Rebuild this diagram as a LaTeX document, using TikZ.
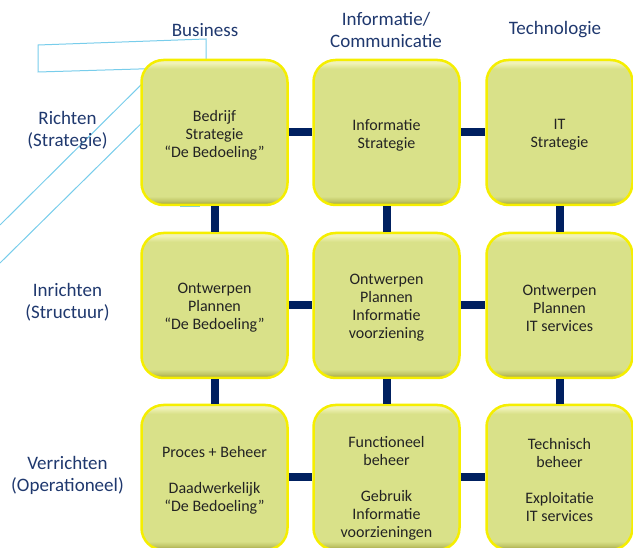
\documentclass[tikz,border=0pt]{standalone}
\usepackage{fontspec}
\setmainfont{Carlito}
\definecolor{bfill}{RGB}{217,225,137}
\definecolor{bdark}{RGB}{150,150,60}
\definecolor{bmid}{RGB}{190,195,100}
\definecolor{blight}{RGB}{240,242,185}
\definecolor{bedge}{RGB}{245,238,0}
\definecolor{conn}{RGB}{0,32,96}
\definecolor{lbl}{RGB}{31,56,110}
\definecolor{deco}{RGB}{120,205,235}
\definecolor{btext}{RGB}{35,35,35}
\pgfdeclareverticalshading{boxshade}{100bp}{color(0bp)=(bdark); color(25bp)=(bdark); color(26.3bp)=(bmid); color(28bp)=(bfill); color(72bp)=(bfill); color(74bp)=(blight); color(75bp)=(blight); color(100bp)=(blight)}
\tikzset{
  box/.style={rounded corners=22pt, minimum width=146pt, minimum height=145pt, inner sep=0pt, shading=boxshade, draw=bedge, line width=2.5pt},
  txt/.style={font=\fontsize{16}{18}\selectfont, align=center, text=btext, inner sep=0pt, yshift=-2.5pt},
  lab/.style={font=\fontsize{19}{22}\selectfont, align=center, text=lbl, inner sep=0pt},
  link/.style={draw=conn, line width=8pt},
  decoline/.style={draw=deco, line width=1pt}
}
\begin{document}
\begin{tikzpicture}[x=1pt,y=-1pt]
\useasboundingbox (0,0) rectangle (633,548);
% light decorations behind
\coordinate (p1) at (38,45);
\coordinate (p2) at (206,39);
\coordinate (p3) at (206,67);
\coordinate (p4) at (38,72);
\draw[decoline] (p1) -- (p2) -- (p3) -- (p4) -- cycle;
\coordinate (d1a) at (0,225);
\coordinate (d1b) at (160,66);
\coordinate (d2a) at (0,263);
\coordinate (d2b) at (160,105);
\draw[decoline] (d1a) -- (d1b);
\draw[decoline] (d2a) -- (d2b);
\coordinate (s1) at (180,207);
\coordinate (s2) at (200,207);
\draw[decoline] (s1) -- (s2);
% boxes
\node[box] (b11) at (214.5,132.5) {};
\node[box] (b12) at (386.5,132.5) {};
\node[box] (b13) at (559.5,132.5) {};
\node[box] (b21) at (214.5,305.5) {};
\node[box] (b22) at (386.5,305.5) {};
\node[box] (b23) at (559.5,305.5) {};
\node[box] (b31) at (214.5,477.5) {};
\node[box] (b32) at (386.5,477.5) {};
\node[box] (b33) at (559.5,477.5) {};
% connectors
\draw[link] (b11.east) -- (b12.west);
\draw[link] (b12.east) -- (b13.west);
\draw[link] (b21.east) -- (b22.west);
\draw[link] (b22.east) -- (b23.west);
\draw[link] (b31.east) -- (b32.west);
\draw[link] (b32.east) -- (b33.west);
\draw[link] (b11.south) -- (b21.north);
\draw[link] (b21.south) -- (b31.north);
\draw[link] (b12.south) -- (b22.north);
\draw[link] (b22.south) -- (b32.north);
\draw[link] (b13.south) -- (b23.north);
\draw[link] (b23.south) -- (b33.north);
% box texts
\node[txt] (t11) at (b11) {Bedrijf\\Strategie\\“De Bedoeling”};
\node[txt] (t12) at (b12) {Informatie\\Strategie};
\node[txt] (t13) at (b13) {IT\\Strategie};
\node[txt] (t21) at (b21) {Ontwerpen\\Plannen\\“De Bedoeling”};
\node[txt] (t22) at (b22) {Ontwerpen\\Plannen\\Informatie\\voorziening};
\node[txt] (t23) at (b23) {Ontwerpen\\Plannen\\IT services};
\node[txt] (t31) at (b31) {Proces + Beheer\\[18pt]Daadwerkelijk\\“De Bedoeling”};
\node[txt, yshift=-8.5pt] (t32) at (b32) {Functioneel\\beheer\\[18pt]Gebruik\\Informatie\\voorzieningen};
\node[txt] (t33) at (b33) {Technisch\\beheer\\[18pt]Exploitatie\\IT services};
% headers
\node[lab] (hb) at (205,30) {Business};
\node[lab] (hi) at (386,29.5) {Informatie/\\Communicatie};
\node[lab] (ht) at (555,30) {Technologie};
\node[lab] (lr) at (67.5,130.5) {Richten\\(Strategie)};
\node[lab] (li) at (67.5,302.5) {Inrichten\\(Structuur)};
\node[lab] (lv) at (67.5,475.5) {Verrichten\\(Operationeel)};
\end{tikzpicture}
\end{document}
